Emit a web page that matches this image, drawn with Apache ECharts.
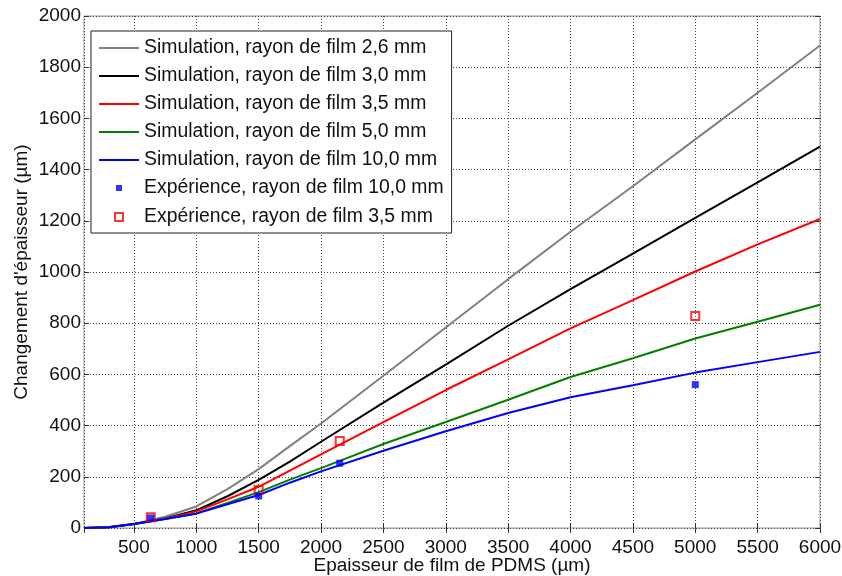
<!DOCTYPE html>
<html>
<head>
<meta charset="utf-8">
<script src="https://cdn.jsdelivr.net/npm/echarts@6/dist/echarts.min.js"></script>
<style>html,body{margin:0;padding:0;background:#fff}#c{width:842px;height:576px}</style>
</head>
<body>
<div id="c"></div>
<script>
// Simulation x values (µm)
const simX = [100, 300, 500, 750, 1000, 1250, 1500, 1750, 2000, 2500, 3000, 3500, 4000, 4500, 5000, 5500, 6000];
const sim26 = [0, 4, 16, 44, 84, 152, 230, 320, 408, 595, 783, 972, 1157, 1335, 1518, 1700, 1885];
const sim30 = [0, 3, 16, 37, 69, 124, 188, 259, 337, 490, 638, 790, 933, 1072, 1211, 1350, 1490];
const sim35 = [0, 3, 16, 36, 65, 112, 161, 224, 288, 414, 539, 659, 780, 890, 1002, 1108, 1207];
const sim50 = [0, 3, 16, 35, 57, 98, 140, 189, 234, 328, 414, 501, 590, 663, 740, 806, 872];
const sim100 = [0, 3, 16, 35, 56, 93, 129, 177, 221, 302, 378, 449, 511, 558, 607, 648, 688];
// Experiments
const expX = [635, 1500, 2150, 5000];
const exp100 = [39, 125, 253, 560];
const exp35 = [42, 148, 340, 828];

const names = [
  'Simulation, rayon de film 2,6 mm',
  'Simulation, rayon de film 3,0 mm',
  'Simulation, rayon de film 3,5 mm',
  'Simulation, rayon de film 5,0 mm',
  'Simulation, rayon de film 10,0 mm',
  'Expérience, rayon de film 10,0 mm',
  'Expérience, rayon de film 3,5 mm'
];
const colors = ['#808080', '#000000', '#ff0000', '#008000', '#0000ff'];
const simSets = [sim26, sim30, sim35, sim50, sim100];

const pair = (xs, ys) => xs.map((x, i) => [x, ys[i]]);
const FONT = 'Arial, "Liberation Sans", sans-serif';
const lineIcon = 'path://M0,0M40,20M0,9L40,9L40,11L0,11Z';

const series = simSets.map((d, i) => ({
  name: names[i], type: 'line', data: pair(simX, d), symbol: 'none',
  lineStyle: {color: colors[i], width: 2}, itemStyle: {color: colors[i]}, z: 3
}));
series.push({
  name: names[6], type: 'scatter', data: pair(expX, exp35), symbol: 'rect', symbolSize: 8,
  itemStyle: {color: 'rgba(0,0,0,0)', borderColor: '#ff0000', borderWidth: 2}, z: 4
});
series.push({
  name: names[5], type: 'scatter', data: pair(expX, exp100), symbol: 'rect', symbolSize: 7,
  itemStyle: {color: '#0000ff'}, z: 5
});

const fmt = v => String(v);
const axisCommon = {
  type: 'value',
  axisLine: {show: false},
  axisTick: {show: true, inside: true, length: 5, lineStyle: {color: '#333'}},
  axisLabel: {color: '#111', fontSize: 19, fontFamily: FONT, formatter: fmt},
  nameTextStyle: {color: '#111', fontSize: 19, fontFamily: FONT},
  nameMoveOverlap: false
};

const option = {
  animation: false,
  backgroundColor: '#fff',
  grid: {left: 84, right: 22, top: 16, bottom: 48, show: true, borderColor: '#999', borderWidth: 1,
         containLabel: false, outerBoundsMode: 'none'},
  xAxis: [
    Object.assign({}, axisCommon, {
      min: 100, max: 6000, splitNumber: 12, minInterval: 500, maxInterval: 500,
      name: 'Epaisseur de film de PDMS (µm)', nameLocation: 'middle', nameGap: 28,
      axisLabel: Object.assign({}, axisCommon.axisLabel, {showMinLabel: false, margin: 10}),
      splitLine: {show: true, lineStyle: {color: '#444', type: [1, 2], width: 1}}
    }),
    Object.assign({}, axisCommon, {
      min: 100, max: 6000, splitNumber: 12, minInterval: 500, maxInterval: 500,
      position: 'top', axisLabel: {show: false}, splitLine: {show: false}
    })
  ],
  yAxis: [
    Object.assign({}, axisCommon, {
      min: 0, max: 2000, interval: 200,
      name: "Changement d'épaisseur (µm)", nameLocation: 'middle', nameGap: 53,
      axisLabel: Object.assign({}, axisCommon.axisLabel, {margin: 3}),
      splitLine: {show: true, lineStyle: {color: '#444', type: [1, 2], width: 1}}
    }),
    Object.assign({}, axisCommon, {
      min: 0, max: 2000, interval: 200, position: 'right',
      axisLabel: {show: false}, splitLine: {show: false}
    })
  ],
  legend: {
    orient: 'vertical', left: 91, top: 31,
    padding: [7, 8, 5, 8], itemGap: 8, itemWidth: 40, itemHeight: 20,
    backgroundColor: '#fff', borderColor: '#222', borderWidth: 1,
    textStyle: {color: '#111', fontSize: 19.4, fontFamily: FONT, lineHeight: 20},
    data: [
      {name: names[0], icon: lineIcon},
      {name: names[1], icon: lineIcon},
      {name: names[2], icon: lineIcon},
      {name: names[3], icon: lineIcon},
      {name: names[4], icon: lineIcon},
      {name: names[5], icon: 'path://M0,0M20,20M7,7L13,7L13,13L7,13Z'},
      {name: names[6], icon: 'path://M0,0M20,20M6,6L14,6L14,14L6,14Z'}
    ]
  },
  series: series
};
const chart = echarts.init(document.getElementById('c'), null, {renderer: 'canvas'});
chart.setOption(option);
</script>
</body>
</html>
